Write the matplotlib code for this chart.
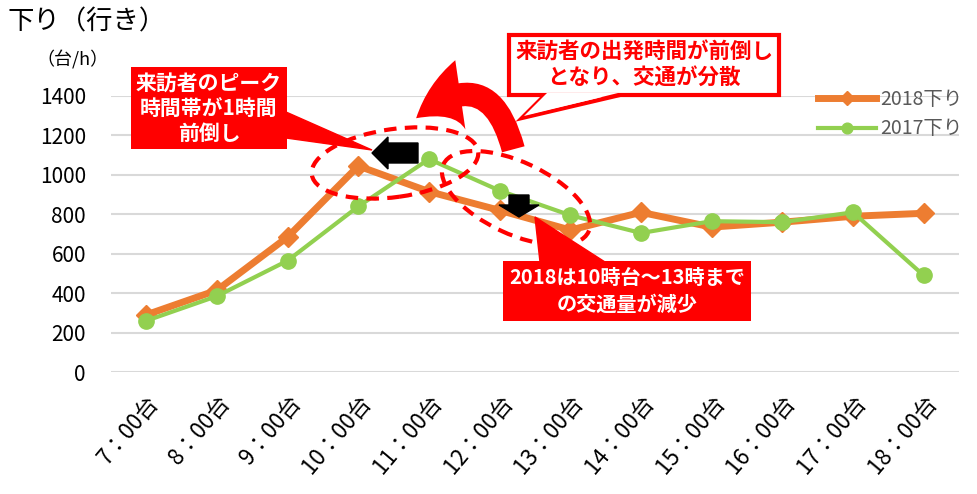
import numpy as np
import matplotlib
matplotlib.use("Agg")
import matplotlib.pyplot as plt
from matplotlib.patches import Ellipse, Polygon, FancyArrowPatch, FancyArrow
from matplotlib.transforms import Affine2D

plt.rcParams['font.family'] = ['Noto Sans CJK JP', 'DejaVu Sans']

hours = ["7：00台", "8：00台", "9：00台", "10：00台", "11：00台", "12：00台",
         "13：00台", "14：00台", "15：00台", "16：00台", "17：00台", "18：00台"]
down_2018 = [290, 415, 685, 1045, 915, 820, 720, 810, 735, 760, 790, 805]
down_2017 = [260, 385, 565, 840, 1080, 920, 795, 705, 765, 760, 810, 490]
yticks = [0, 200, 400, 600, 800, 1000, 1200, 1400]

W, H = 978, 494
fig = plt.figure(figsize=(W / 100, H / 100), dpi=100)
ax = fig.add_axes([111 / W, 1 - 372 / H, (959 - 111) / W, (372 - 96) / H])

x = np.arange(len(hours))
ax.plot(x, down_2018, color='#ED7D31', lw=5, marker='D', ms=10, label='2018下り', zorder=3)
ax.plot(x, down_2017, color='#92D050', lw=3, marker='o', ms=11, label='2017下り', zorder=4)

ax.set_xlim(-0.5, len(hours) - 0.5)
ax.set_ylim(0, 1400)
ax.set_yticks(yticks)
ax.set_yticklabels([str(v) for v in yticks], fontsize=15)
ax.set_xticks(x)
ax.set_xticklabels(hours, rotation=50, ha='right', va='top', rotation_mode='anchor', fontsize=16)
ax.tick_params(axis='y', length=0, pad=18)
ax.tick_params(axis='x', length=0, pad=14)
ax.yaxis.grid(True, color='#D9D9D9', lw=1.5)
ax.set_axisbelow(True)
for s in ax.spines.values():
    s.set_visible(False)

leg = ax.legend(loc='upper right', bbox_to_anchor=(1.025, 1.09), frameon=False,
                fontsize=14, handlelength=3.0, labelspacing=0.45, handletextpad=0.2,
                markerscale=0.7)
for t in leg.get_texts():
    t.set_color('#595959')

# pixel coords (y from top) -> figure coords
def P(px, py):
    return (px / W, 1 - py / H)

tf = fig.transFigure
tpx = Affine2D().scale(1 / W, 1 / H) + tf

fig.text(*P(8, 22), "下り（行き）", fontsize=19, va='center', ha='left')
fig.text(*P(36, 60), "（台/h）", fontsize=13, va='center', ha='left')

# dashed ellipses
for (cx, cy, w, h, ang) in [(395, 163, 168, 68, 8), (516, 198, 160, 72, -25)]:
    e = Ellipse((cx, H - cy), w, h, angle=ang, fill=False, edgecolor='red', lw=3,
                ls=(0, (3, 2)), transform=tpx, zorder=5)
    fig.add_artist(e)

# black arrows
fig.add_artist(FancyArrow(*P(418, 153), -46 / W, 0, width=20 / H, head_width=32 / H,
                          head_length=16 / W, color='black', transform=tf, zorder=6,
                          length_includes_head=True))
fig.add_artist(FancyArrow(*P(519, 195), 0, -22 / H, width=20 / W, head_width=40 / W,
                          head_length=12 / H, color='black', transform=tf, zorder=6,
                          length_includes_head=True))

# curved red arrow
fig.add_artist(FancyArrowPatch(P(514, 152), P(414, 120), transform=tf,
                               connectionstyle='arc3,rad=0.8',
                               arrowstyle='simple,head_width=4.2,head_length=3.0,tail_width=1.4',
                               color='red', lw=0, zorder=6, mutation_scale=12))

# callout 1: red box
fig.add_artist(Polygon([P(286, 112), P(286, 138), P(372, 150)], closed=True,
                       color='red', transform=tf, zorder=6))
fig.text(*P(209, 108), "来訪者のピーク\n時間帯が1時間\n前倒し", fontsize=15, color='white',
         weight='bold', ha='center', va='center', linespacing=1.25, zorder=7,
         bbox=dict(boxstyle='square,pad=0.25', fc='red', ec='none'))

# callout 2: white box with red border
fig.add_artist(Polygon([P(545, 95), P(620, 95), P(522, 118)], closed=True,
                       fc='white', ec='red', lw=3, transform=tf, zorder=6))
fig.text(*P(644, 65), "来訪者の出発時間が前倒し\nとなり、交通が分散", fontsize=15.5, color='red',
         weight='bold', ha='center', va='center', linespacing=1.25, zorder=7,
         bbox=dict(boxstyle='square,pad=0.3', fc='white', ec='red', lw=3))
fig.add_artist(Polygon([P(547, 93), P(618, 93), P(524, 116)], closed=True,
                       fc='white', ec='none', transform=tf, zorder=8))

# callout 3: red box bottom
fig.add_artist(Polygon([P(540, 262), P(605, 262), P(535, 217)], closed=True,
                       color='red', transform=tf, zorder=6))
fig.text(*P(627, 291), "2018は10時台～13時まで\nの交通量が減少", fontsize=14.5, color='white',
         weight='bold', ha='center', va='center', linespacing=1.3, zorder=7,
         bbox=dict(boxstyle='square,pad=0.3', fc='red', ec='none'))

fig.savefig("out.png", dpi=100)
